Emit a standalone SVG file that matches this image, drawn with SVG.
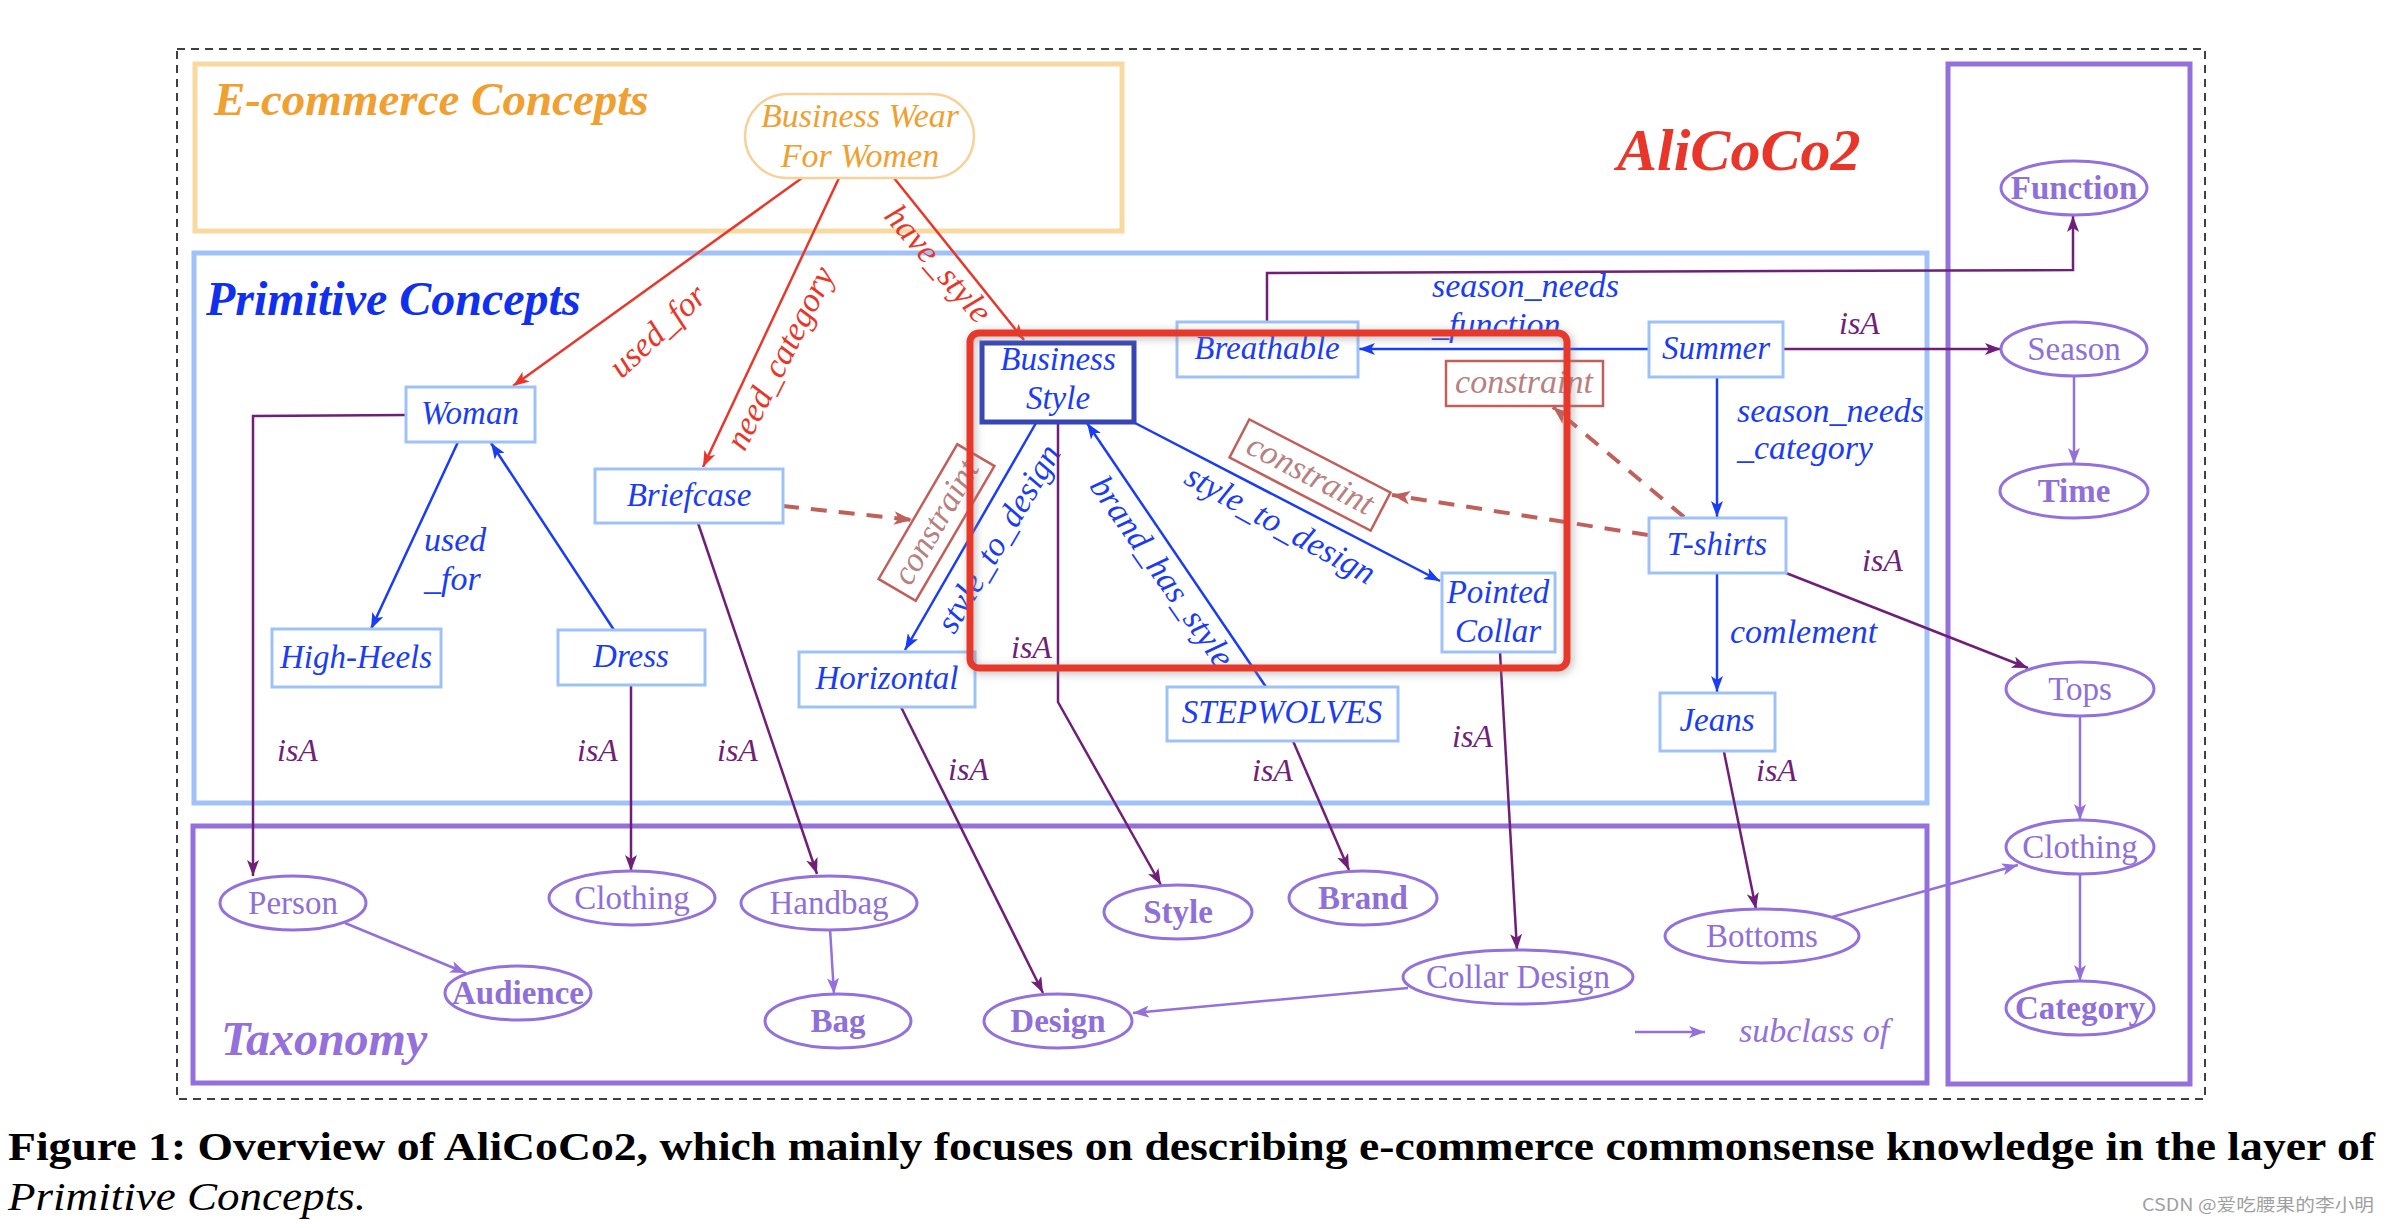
<svg xmlns="http://www.w3.org/2000/svg" width="2390" height="1228" viewBox="0 0 2390 1228">
<style>
.t{font-family:"Liberation Serif","Times New Roman",serif;}
.it{font-family:"Liberation Serif","Times New Roman",serif;font-style:italic;}
.bx{fill:#fff;stroke:#9EC1F8;stroke-width:3;}
.bt{fill:#1A3CF5;font-size:33px;text-anchor:middle;}
.el{fill:#fff;stroke:#9370DB;stroke-width:3;}
.et{fill:#8F6FD8;font-size:33px;text-anchor:middle;}
.b{font-weight:bold;}
.cb{fill:#fff;stroke:#C0605A;stroke-width:2.5;}
.ct{fill:#B88080;font-size:34px;text-anchor:middle;}
.red{stroke:#E8372A;stroke-width:2.5;fill:none;marker-end:url(#aR);}
.blue{stroke:#1A3CF5;stroke-width:2.5;fill:none;marker-end:url(#aB);}
.dp{stroke:#6F1F78;stroke-width:2.5;fill:none;marker-end:url(#aP);}
.lp{stroke:#9370DB;stroke-width:2.5;fill:none;marker-end:url(#aL);}
.dash{stroke:#C0605A;stroke-width:4;fill:none;stroke-dasharray:16 12;marker-end:url(#aC);}
.lr{fill:#E8372A;font-size:34px;text-anchor:middle;}
.lb{fill:#1A3CF5;font-size:34px;}
.li{fill:#6F1F78;font-size:32px;}
</style>
<defs>
<marker id="aR" viewBox="0 0 16 12" refX="16" refY="6" markerWidth="16" markerHeight="12" markerUnits="userSpaceOnUse" orient="auto"><path d="M0,0 L16,6 L0,12 L4,6 z" fill="#E8372A"/></marker>
<marker id="aB" viewBox="0 0 16 12" refX="16" refY="6" markerWidth="16" markerHeight="12" markerUnits="userSpaceOnUse" orient="auto"><path d="M0,0 L16,6 L0,12 L4,6 z" fill="#1A3CF5"/></marker>
<marker id="aP" viewBox="0 0 16 12" refX="16" refY="6" markerWidth="16" markerHeight="12" markerUnits="userSpaceOnUse" orient="auto"><path d="M0,0 L16,6 L0,12 L4,6 z" fill="#6F1F78"/></marker>
<marker id="aP2" viewBox="0 0 16 12" refX="16" refY="6" markerWidth="20" markerHeight="15" markerUnits="userSpaceOnUse" orient="auto"><path d="M0,0 L16,6 L0,12 L4,6 z" fill="#6F1F78"/></marker>
<marker id="aL" viewBox="0 0 16 12" refX="16" refY="6" markerWidth="16" markerHeight="12" markerUnits="userSpaceOnUse" orient="auto"><path d="M0,0 L16,6 L0,12 L4,6 z" fill="#9370DB"/></marker>
<marker id="aC" viewBox="0 0 16 12" refX="16" refY="6" markerWidth="18" markerHeight="14" markerUnits="userSpaceOnUse" orient="auto"><path d="M0,0 L16,6 L0,12 L4,6 z" fill="#C0605A"/></marker>
<filter id="sh" x="-10%" y="-10%" width="120%" height="120%"><feDropShadow dx="2" dy="2" stdDeviation="4" flood-color="#888" flood-opacity="0.6"/></filter>
</defs>
<rect width="2390" height="1228" fill="#fff"/>

<g id="frame">
<rect x="177" y="49" width="2028" height="1050" fill="none" stroke="#000" stroke-width="1.5" stroke-dasharray="8 6"/>
</g>

<g id="layer-ecommerce">
<rect x="195" y="64" width="927" height="167" fill="none" stroke="#F8D9A0" stroke-width="5"/>
<text class="it b" x="214" y="115" font-size="47" fill="#F0A030">E-commerce Concepts</text>
</g>
<g id="layer-primitive">
<rect x="194" y="253" width="1733" height="550" fill="none" stroke="#A0C2F8" stroke-width="5"/>
<text class="it b" x="206" y="315" font-size="48" fill="#1030F0">Primitive Concepts</text>
</g>
<g id="layer-taxonomy">
<rect x="193" y="826" width="1734" height="257" fill="none" stroke="#9370DB" stroke-width="5"/>
<text class="it b" x="221" y="1055" font-size="48" fill="#9370DB">Taxonomy</text>
</g>
<g id="layer-taxonomy-right">
<rect x="1948" y="64" width="242" height="1020" fill="none" stroke="#9370DB" stroke-width="5"/>
</g>
<g id="title">
<text class="it b" x="1617" y="170" font-size="60" fill="#E8372A">AliCoCo2</text>
</g>

<g id="connectors">
<line class="red" x1="802" y1="178" x2="513" y2="386"/>
<line class="red" x1="839" y1="178" x2="703" y2="467"/>
<line class="red" x1="894" y1="178" x2="1024" y2="340"/>
<text class="it lr" transform="translate(665,339) rotate(-43)">used_for</text>
<text class="it lr" transform="translate(790,363) rotate(-63)">need_category</text>
<text class="it lr" transform="translate(930,271) rotate(49)">have_style</text>

<line class="blue" x1="458" y1="442" x2="371" y2="629"/>
<line class="blue" x1="614" y1="630" x2="491" y2="443"/>
<line class="blue" x1="1036" y1="423" x2="905" y2="650"/>
<line class="blue" x1="1266" y1="687" x2="1087" y2="423"/>
<line class="blue" x1="1135" y1="423" x2="1440" y2="581"/>
<line class="blue" x1="1649" y1="349" x2="1359" y2="349" stroke-width="3"/>
<line class="blue" x1="1717" y1="377" x2="1717" y2="517" stroke-width="3"/>
<line class="blue" x1="1717" y1="573" x2="1717" y2="692" stroke-width="3"/>
<text class="it lb" x="424" y="551">used</text>
<text class="it lb" x="424" y="590">_for</text>
<text class="it lb" x="1432" y="297">season_needs</text>
<text class="it lb" x="1432" y="336">_function</text>
<text class="it lb" x="1737" y="422">season_needs</text>
<text class="it lb" x="1737" y="459">_category</text>
<text class="it lb" x="1730" y="643">comlement</text>
<text class="it lb" text-anchor="middle" transform="translate(1008,544) rotate(-59.5)">style_to_design</text>
<text class="it lb" text-anchor="middle" transform="translate(1153,578) rotate(55)">brand_has_style</text>
<text class="it lb" text-anchor="middle" transform="translate(1275,534) rotate(29)">style_to_design</text>

<polyline class="dp" points="406,415 253,416 253,876"/>
<line class="dp" x1="631" y1="685" x2="631" y2="871"/>
<line class="dp" x1="698" y1="523" x2="817" y2="874"/>
<line class="dp" x1="901" y1="707" x2="1043" y2="993"/>
<polyline class="dp" points="1058,422 1058,702 1161,885"/>
<line class="dp" x1="1293" y1="741" x2="1349" y2="870"/>
<line class="dp" x1="1500" y1="652" x2="1517" y2="950"/>
<line class="dp" x1="1724" y1="752" x2="1756" y2="909"/>
<line class="dp" x1="1786" y1="573" x2="2028" y2="668" stroke-width="3.5" marker-end="url(#aP2)"/>
<line class="dp" x1="1783" y1="349" x2="2001" y2="349" stroke-width="3.5" marker-end="url(#aP2)"/>
<polyline class="dp" points="1267,322 1267,273 2073,270 2073,216"/>
<text class="it li" x="277" y="761">isA</text>
<text class="it li" x="577" y="761">isA</text>
<text class="it li" x="717" y="761">isA</text>
<text class="it li" x="948" y="780">isA</text>
<text class="it li" x="1011" y="658">isA</text>
<text class="it li" x="1252" y="781">isA</text>
<text class="it li" x="1452" y="747">isA</text>
<text class="it li" x="1756" y="781">isA</text>
<text class="it li" x="1862" y="571">isA</text>
<text class="it li" x="1839" y="334">isA</text>

<line class="lp" x1="345" y1="923" x2="466" y2="973"/>
<line class="lp" x1="830" y1="929" x2="834" y2="994"/>
<line class="lp" x1="1408" y1="988" x2="1133" y2="1013"/>
<line class="lp" x1="1832" y1="917" x2="2018" y2="865"/>
<line class="lp" x1="2074" y1="377" x2="2074" y2="464"/>
<line class="lp" x1="2080" y1="716" x2="2080" y2="820"/>
<line class="lp" x1="2080" y1="874" x2="2080" y2="981"/>

<line class="dash" x1="783" y1="506" x2="912" y2="520"/>
<line class="dash" x1="1648" y1="535" x2="1392" y2="495"/>
<line class="dash" x1="1684" y1="517" x2="1553" y2="407"/>
</g>

<g id="legend">
<line class="lp" x1="1635" y1="1032" x2="1705" y2="1032"/>
<text class="it" x="1739" y="1042" font-size="34" fill="#9370DB">subclass of</text>
</g>

<g id="node-business-wear">
<rect x="745" y="94" width="229" height="84" rx="42" fill="#fff" stroke="#F8D09A" stroke-width="2.5"/>
<text class="it" x="860" y="127" font-size="34" fill="#F0A030" text-anchor="middle">Business Wear</text>
<text class="it" x="860" y="167" font-size="34" fill="#F0A030" text-anchor="middle">For Women</text>
</g>

<g id="node-woman"><rect class="bx" x="406" y="387" width="129" height="55"/><text class="it bt" x="470" y="424">Woman</text></g>
<g id="node-briefcase"><rect class="bx" x="595" y="469" width="188" height="54"/><text class="it bt" x="689" y="506">Briefcase</text></g>
<g id="node-high-heels"><rect class="bx" x="272" y="629" width="169" height="58"/><text class="it bt" x="356" y="668">High-Heels</text></g>
<g id="node-dress"><rect class="bx" x="558" y="630" width="147" height="55"/><text class="it bt" x="631" y="667">Dress</text></g>
<g id="node-horizontal"><rect class="bx" x="799" y="652" width="176" height="55"/><text class="it bt" x="887" y="689">Horizontal</text></g>
<g id="node-breathable"><rect class="bx" x="1177" y="322" width="181" height="55"/><text class="it bt" x="1267" y="359">Breathable</text></g>
<g id="node-summer"><rect class="bx" x="1649" y="322" width="134" height="55"/><text class="it bt" x="1716" y="359">Summer</text></g>
<g id="node-tshirts"><rect class="bx" x="1649" y="518" width="137" height="55"/><text class="it bt" x="1717" y="555">T-shirts</text></g>
<g id="node-jeans"><rect class="bx" x="1660" y="693" width="115" height="58"/><text class="it bt" x="1717" y="731">Jeans</text></g>
<g id="node-pointed-collar"><rect class="bx" x="1442" y="573" width="113" height="79"/><text class="it bt" x="1498" y="603">Pointed</text><text class="it bt" x="1498" y="642">Collar</text></g>
<g id="node-stepwolves"><rect class="bx" x="1167" y="687" width="231" height="54"/><text class="it bt" x="1282" y="723">STEPWOLVES</text></g>
<g id="node-business-style"><rect x="982" y="343" width="152" height="79" fill="#fff" stroke="#3545B5" stroke-width="5"/><text class="it bt" x="1058" y="370">Business</text><text class="it bt" x="1058" y="409">Style</text></g>

<g id="node-constraint-top"><rect class="cb" x="1446" y="361" width="157" height="45"/><text class="it ct" x="1524" y="393">constraint</text></g>
<g id="node-constraint-mid" transform="translate(1310,475) rotate(27.4)"><rect class="cb" x="-79.5" y="-21.5" width="159" height="43"/><text class="it ct" x="0" y="10">constraint</text></g>
<g id="node-constraint-left" transform="translate(936.5,522.5) rotate(-59.7)"><rect class="cb" x="-78" y="-21.5" width="156" height="43"/><text class="it ct" x="0" y="10">constraint</text></g>

<g id="highlight">
<rect x="970" y="333" width="597" height="335" rx="9" fill="none" stroke="#E8372A" stroke-width="7" filter="url(#sh)"/>
</g>

<g id="node-function"><ellipse class="el" cx="2074" cy="188" rx="73" ry="27"/><text class="t et b" x="2074" y="199">Function</text></g>
<g id="node-season"><ellipse class="el" cx="2074" cy="349" rx="73" ry="27"/><text class="t et" x="2074" y="360">Season</text></g>
<g id="node-time"><ellipse class="el" cx="2074" cy="491" rx="74" ry="27"/><text class="t et b" x="2074" y="502">Time</text></g>
<g id="node-tops"><ellipse class="el" cx="2080" cy="689" rx="74" ry="27"/><text class="t et" x="2080" y="700">Tops</text></g>
<g id="node-clothing-r"><ellipse class="el" cx="2080" cy="847" rx="74" ry="27"/><text class="t et" x="2080" y="858">Clothing</text></g>
<g id="node-category"><ellipse class="el" cx="2080" cy="1008" rx="74" ry="27"/><text class="t et b" x="2080" y="1019">Category</text></g>
<g id="node-person"><ellipse class="el" cx="293" cy="903" rx="73" ry="27"/><text class="t et" x="293" y="914">Person</text></g>
<g id="node-clothing-l"><ellipse class="el" cx="632" cy="898" rx="83" ry="27"/><text class="t et" x="632" y="909">Clothing</text></g>
<g id="node-handbag"><ellipse class="el" cx="829" cy="903" rx="88" ry="27"/><text class="t et" x="829" y="914">Handbag</text></g>
<g id="node-audience"><ellipse class="el" cx="518" cy="993" rx="73" ry="27"/><text class="t et b" x="518" y="1004">Audience</text></g>
<g id="node-bag"><ellipse class="el" cx="838" cy="1021" rx="73" ry="27"/><text class="t et b" x="838" y="1032">Bag</text></g>
<g id="node-design"><ellipse class="el" cx="1058" cy="1021" rx="74" ry="27"/><text class="t et b" x="1058" y="1032">Design</text></g>
<g id="node-style"><ellipse class="el" cx="1178" cy="912" rx="74" ry="27"/><text class="t et b" x="1178" y="923">Style</text></g>
<g id="node-brand"><ellipse class="el" cx="1363" cy="898" rx="74" ry="27"/><text class="t et b" x="1363" y="909">Brand</text></g>
<g id="node-collar-design"><ellipse class="el" cx="1518" cy="977" rx="115" ry="27"/><text class="t et" x="1518" y="988">Collar Design</text></g>
<g id="node-bottoms"><ellipse class="el" cx="1762" cy="936" rx="97" ry="27"/><text class="t et" x="1762" y="947">Bottoms</text></g>

<g id="caption">
<text class="t b" x="8" y="1160" font-size="39" fill="#000" textLength="2367" lengthAdjust="spacingAndGlyphs">Figure 1: Overview of AliCoCo2, which mainly focuses on describing e-commerce commonsense knowledge in the layer of</text>
<text class="it" x="8" y="1210" font-size="39" fill="#000" textLength="358" lengthAdjust="spacingAndGlyphs">Primitive Concepts.</text>
</g>
<g id="watermark">
<text x="2142" y="1211" font-family="'Noto Sans CJK SC',sans-serif" font-size="17" fill="#A0A0A0" textLength="232" lengthAdjust="spacingAndGlyphs">CSDN @爱吃腰果的李小明</text>
</g>
</svg>
